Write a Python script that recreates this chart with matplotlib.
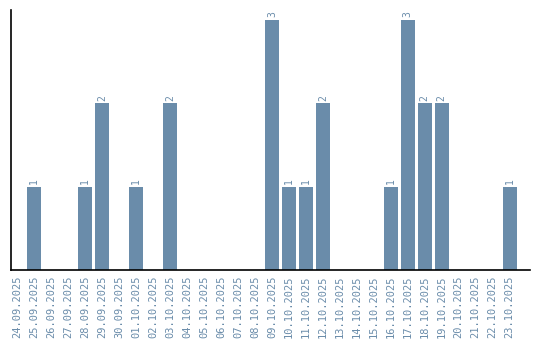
import matplotlib.pyplot as plt

dates = ["24.09.2025", "25.09.2025", "26.09.2025", "27.09.2025", "28.09.2025",
         "29.09.2025", "30.09.2025", "01.10.2025", "02.10.2025", "03.10.2025",
         "04.10.2025", "05.10.2025", "06.10.2025", "07.10.2025", "08.10.2025",
         "09.10.2025", "10.10.2025", "11.10.2025", "12.10.2025", "13.10.2025",
         "14.10.2025", "15.10.2025", "16.10.2025", "17.10.2025", "18.10.2025",
         "19.10.2025", "20.10.2025", "21.10.2025", "22.10.2025", "23.10.2025"]
counts = [0, 1, 0, 0, 1, 2, 0, 1, 0, 2,
          0, 0, 0, 0, 0, 3, 1, 1, 2, 0,
          0, 0, 1, 3, 2, 2, 0, 0, 0, 1]

color = "#6a8caa"
plt.rcParams["font.family"] = "DejaVu Sans Mono"

fig = plt.figure(figsize=(5.4, 3.4), dpi=100)
ax = fig.add_axes([0.0195, 0.206, 0.962, 0.765])
x = list(range(len(dates)))
ax.bar(x, counts, width=0.82, color=color)
for xi, c in zip(x, counts):
    if c > 0:
        ax.text(xi, c + 0.03, str(c), rotation=90, ha="center", va="bottom",
                fontsize=7, color=color)
ax.set_xticks(x)
ax.set_xticklabels(dates, rotation=90, fontsize=7.5, color=color)
ax.tick_params(axis="x", length=0, pad=4)
ax.set_yticks([])
ax.set_xlim(-0.4, 30.2)
ax.set_ylim(0, 3.12)
ax.spines["top"].set_visible(False)
ax.spines["right"].set_visible(False)
ax.spines["left"].set_linewidth(1.2)
ax.spines["bottom"].set_linewidth(1.2)
fig.savefig("out.png", dpi=100)
